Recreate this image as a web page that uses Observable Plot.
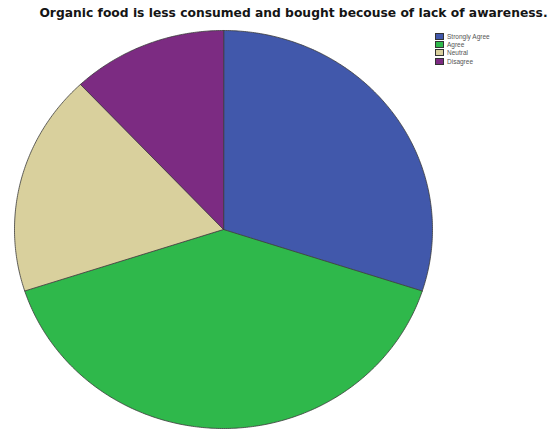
<!DOCTYPE html>
<html>
<head>
<meta charset="utf-8">
<script src="https://cdn.jsdelivr.net/npm/d3@7"></script>
<script src="https://cdn.jsdelivr.net/npm/@observablehq/plot@0.6"></script>
<style>
  html, body { margin: 0; padding: 0; background: #fff; }
  #wrap { position: relative; width: 553px; height: 430px; overflow: hidden; }
  #legend { position: absolute; left: 435px; top: 32px; font-family: "Liberation Sans", Arial, sans-serif; font-size: 6.5px; color: #555; }
  .row { display: flex; align-items: center; height: 8.3px; }
  .sw { width: 9px; height: 7px; box-sizing: border-box; border: 0.7px solid #333; margin-right: 3px; }
</style>
</head>
<body>
<div id="wrap"></div>
<script>
const title = "Organic food is less consumed and bought becouse of lack of awareness.";
const answers = ["Strongly Agree", "Agree", "Neutral", "Disagree"];
const percents = [30, 40, 18, 12];
const colors = ["#4158ab", "#2fb84b", "#d9d09d", "#7c2b82"];

const pie = d3.pie().sort(null).value(d => d.value).startAngle(0).endAngle(2 * Math.PI);
const arcs = pie(answers.map((a, i) => ({answer: a, value: percents[i]})));

// polygon outlines of each slice (centre + arc samples), in unit-circle space
const pts = [];
for (const s of arcs) {
  const n = Math.max(2, Math.ceil((s.endAngle - s.startAngle) / 0.01));
  pts.push({answer: s.data.answer, x: 0, y: 0});
  for (let k = 0; k <= n; k++) {
    const a = s.startAngle + (s.endAngle - s.startAngle) * k / n;
    pts.push({answer: s.data.answer, x: Math.sin(a), y: Math.cos(a)});
  }
}

const chart = Plot.plot({
  width: 553,
  height: 430,
  margin: 0,
  x: {domain: [-1, 1], range: [14, 432], axis: null},
  y: {domain: [-1, 1], range: [428, 30], axis: null},
  color: {domain: answers, range: colors},
  style: {background: "#fff"},
  marks: [
    Plot.line(pts, {x: "x", y: "y", z: "answer", fill: "answer", stroke: "#3a3a3a", strokeWidth: 0.8, curve: "linear-closed"}),
    Plot.text([title], {frameAnchor: "top-left", dx: 293, dy: 8, textAnchor: "middle", fontSize: 12.3, fontWeight: "bold", fill: "#151515", fontFamily: "DejaVu Sans, sans-serif"})
  ]
});

const wrap = document.getElementById("wrap");
wrap.appendChild(chart);

const legend = document.createElement("div");
legend.id = "legend";
answers.forEach((a, i) => {
  const row = document.createElement("div");
  row.className = "row";
  const sw = document.createElement("div");
  sw.className = "sw";
  sw.style.background = colors[i];
  const t = document.createElement("span");
  t.textContent = a;
  row.appendChild(sw);
  row.appendChild(t);
  legend.appendChild(row);
});
wrap.appendChild(legend);
</script>
</body>
</html>
